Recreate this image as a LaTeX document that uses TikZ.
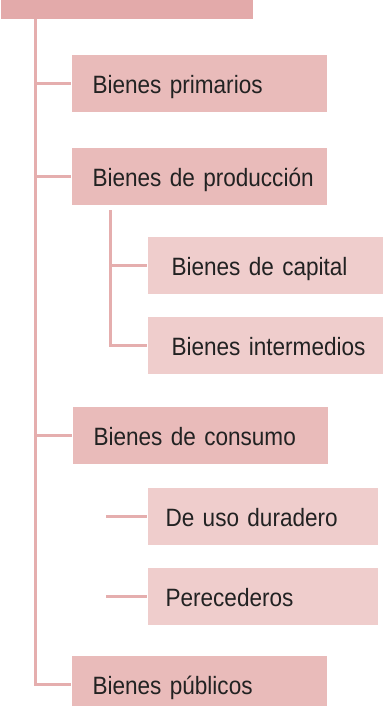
\documentclass[tikz,border=0pt]{standalone}
\usepackage{fontspec}
\setmainfont{Liberation Sans}[FakeStretch=0.9]
\usetikzlibrary{positioning, calc}
\definecolor{boxtop}{RGB}{227,170,170}
\definecolor{boxmain}{RGB}{233,187,186}
\definecolor{boxsub}{RGB}{239,205,204}
\definecolor{linkpink}{RGB}{229,174,174}
\definecolor{inkgray}{RGB}{34,34,34}

\begin{document}
\begin{tikzpicture}[x=0.75pt, y=-0.75pt, thick, inset/.store in=\boxinset, inset=15.75pt]
        % Define block styles
        \tikzstyle{block} = [rectangle, fill=boxmain, anchor=north west, minimum height=42.75pt, inner xsep=0pt, text width=191.25pt, align=left, text height=16.2pt, text depth=0pt, font=\fontsize{18.8}{22}\selectfont, text=inkgray, execute at begin node={\hspace*{\boxinset}}]
        \tikzstyle{subblock} = [block, fill=boxsub, text width=176.25pt, inset=18pt]
        \tikzstyle{leafblock} = [block, fill=boxsub, text width=172.5pt, inset=13.5pt]
        \tikzstyle{link} = [draw=linkpink, line width=2.25pt]

        % Fix the page
        \useasboundingbox (0,0) rectangle (382,706);

        % Place nodes
        \node [block, fill=boxtop, text width=189pt] (root) at (0,-39) {};
        \node [block] (primarios) at (71,54) {Bienes primarios};
        \node [block] (produccion) at (71,147) {Bienes de producción};
        \node [subblock] (capital) at (147,236) {Bienes de capital};
        \node [subblock] (intermedios) at (147,316) {Bienes intermedios};
        \node [block] (consumo) at (72,406) {Bienes de consumo};
        \node [leafblock] (duradero) at (147,487) {De uso duradero};
        \node [leafblock] (perecederos) at (147,567) {Perecederos};
        \node [block] (publicos) at (71,655) {Bienes públicos};

        % Draw connections
        \coordinate (trunk) at ($(root.south west)+(35,0)$);
        \draw [link] (trunk) |- (publicos.west);
        \foreach \b in {primarios, produccion, consumo}
            \draw [link] (trunk |- \b.west) -- (\b.west);

        \coordinate (branch) at ($(produccion.south west)+(39.5,5)$);
        \draw [link] (branch) |- (intermedios.west);
        \draw [link] (branch |- capital.west) -- (capital.west);

        \foreach \b in {duradero, perecederos}
            \draw [link] ($(\b.west)+(-41,0)$) -- (\b.west);
    \end{tikzpicture}
\end{document}
